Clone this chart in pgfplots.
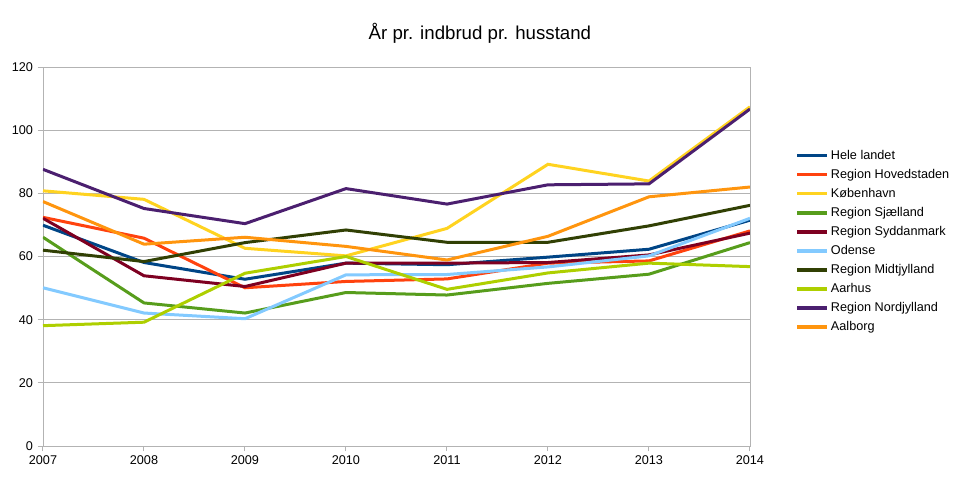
\documentclass[border=0pt]{standalone}
\usepackage{pgfplots}
\pgfplotsset{compat=1.18}
\usepackage{fontspec}
\setmainfont{Liberation Sans}
\definecolor{c1}{HTML}{004586}
\definecolor{c2}{HTML}{FF420E}
\definecolor{c3}{HTML}{FFD320}
\definecolor{c4}{HTML}{579D1C}
\definecolor{c5}{HTML}{7E0021}
\definecolor{c6}{HTML}{83CAFF}
\definecolor{c7}{HTML}{314004}
\definecolor{c8}{HTML}{AECF00}
\definecolor{c9}{HTML}{4B1F6F}
\definecolor{c10}{HTML}{FF950E}
\definecolor{gridgray}{HTML}{B3B3B3}
\begin{document}
\begin{tikzpicture}
\useasboundingbox (-32.25pt,-25.5pt) rectangle (687.75pt,334.5pt);
\begin{axis}[
  at={(0,0)}, anchor=south west,
  scale only axis, width=530.25pt, height=284.25pt,
  xmin=2007, xmax=2014, ymin=0, ymax=120,
  xtick={2007,...,2014}, ytick={0,20,...,120},
  /pgf/number format/assume math mode=true,
  xticklabel style={/pgf/number format/1000 sep={}, font=\fontsize{9.5pt}{11pt}\selectfont},
  yticklabel style={font=\fontsize{9.5pt}{11pt}\selectfont},
  axis line style={gridgray},
  tick style={gridgray, line width=0.75pt},
  tick align=outside, major tick length=4pt,
  xtick pos=bottom, ytick pos=left,
  ymajorgrids, grid style={gridgray, line width=0.75pt},
  title={År pr. indbrud pr. husstand},
  title style={font=\fontsize{14pt}{16pt}\selectfont, at={(0.618,1)}, anchor=south, yshift=8.5pt},
  legend style={draw=none, at={(1.064,0.54)}, anchor=west,
    font=\fontsize{9.5pt}{11pt}\selectfont, row sep=1.9pt, inner sep=0pt},
  legend cell align=left,
  legend image code/.code={\draw[#1, line width=2.6pt] (0pt,0pt) -- (22pt,0pt);},
  every axis plot/.append style={line width=2.25pt, mark=none},
]
\addplot[c1] coordinates {(2007,69.9)(2008,58.1)(2009,52.8)(2010,57.9)(2011,57.4)(2012,59.8)(2013,62.3)(2014,71.5)};
\addlegendentry{Hele landet}
\addplot[c2] coordinates {(2007,72.4)(2008,65.8)(2009,50.1)(2010,52.1)(2011,52.9)(2012,57.9)(2013,58.6)(2014,68.1)};
\addlegendentry{Region Hovedstaden}
\addplot[c3] coordinates {(2007,80.8)(2008,78.1)(2009,62.6)(2010,60.2)(2011,68.9)(2012,89.2)(2013,83.9)(2014,107.4)};
\addlegendentry{København}
\addplot[c4] coordinates {(2007,66.1)(2008,45.3)(2009,42.1)(2010,48.6)(2011,47.8)(2012,51.5)(2013,54.4)(2014,64.4)};
\addlegendentry{Region Sjælland}
\addplot[c5] coordinates {(2007,72.1)(2008,53.9)(2009,50.5)(2010,57.9)(2011,57.9)(2012,58.1)(2013,60.5)(2014,67.4)};
\addlegendentry{Region Syddanmark}
\addplot[c6] coordinates {(2007,50.1)(2008,42.1)(2009,40.3)(2010,54.2)(2011,54.3)(2012,56.7)(2013,60.2)(2014,72.1)};
\addlegendentry{Odense}
\addplot[c7] coordinates {(2007,62.0)(2008,58.4)(2009,64.4)(2010,68.4)(2011,64.5)(2012,64.5)(2013,69.7)(2014,76.2)};
\addlegendentry{Region Midtjylland}
\addplot[c8] coordinates {(2007,38.1)(2008,39.2)(2009,54.7)(2010,60.0)(2011,49.6)(2012,54.8)(2013,57.9)(2014,56.8)};
\addlegendentry{Aarhus}
\addplot[c9] coordinates {(2007,87.6)(2008,75.2)(2009,70.4)(2010,81.5)(2011,76.6)(2012,82.7)(2013,83.0)(2014,106.7)};
\addlegendentry{Region Nordjylland}
\addplot[c10] coordinates {(2007,77.4)(2008,63.9)(2009,66.1)(2010,63.2)(2011,58.9)(2012,66.4)(2013,78.9)(2014,82.0)};
\addlegendentry{Aalborg}
\end{axis}
\end{tikzpicture}
\end{document}
